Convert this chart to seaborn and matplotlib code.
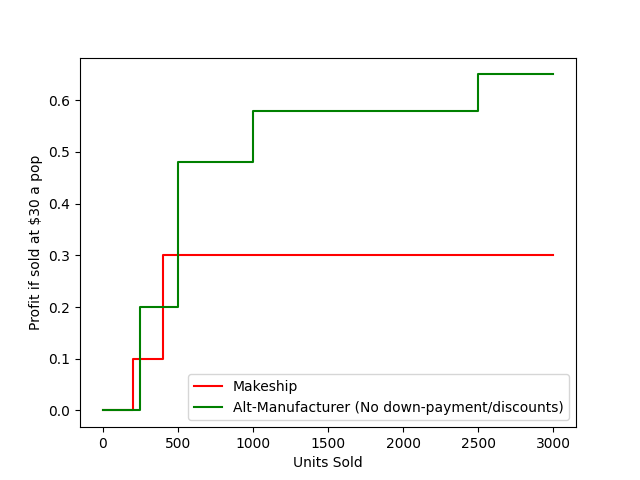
import pandas as pd
import seaborn as sns
import matplotlib
matplotlib.use("Agg")
import matplotlib.pyplot as plt

# step points (value holds until next x)
makeship_units = [0, 200, 400, 3000]
makeship_profit = [0.0, 0.1, 0.3, 0.3]

alt_units = [0, 250, 500, 1000, 2500, 3000]
alt_profit = [0.0, 0.2, 0.48, 0.58, 0.65, 0.65]

df = pd.concat([
    pd.DataFrame({"units": makeship_units, "profit": makeship_profit, "who": "Makeship"}),
    pd.DataFrame({"units": alt_units, "profit": alt_profit,
                  "who": "Alt-Manufacturer (No down-payment/discounts)"}),
])

fig, ax = plt.subplots(figsize=(6.4, 4.8), dpi=100)
sns.lineplot(data=df, x="units", y="profit", hue="who",
             palette=["red", "green"], estimator=None, sort=False,
             drawstyle="steps-post", ax=ax)

ax.set_xlabel("Units Sold")
ax.set_ylabel("Profit if sold at $30 a pop")
ax.legend(loc="lower right")

fig.savefig("out.png")
